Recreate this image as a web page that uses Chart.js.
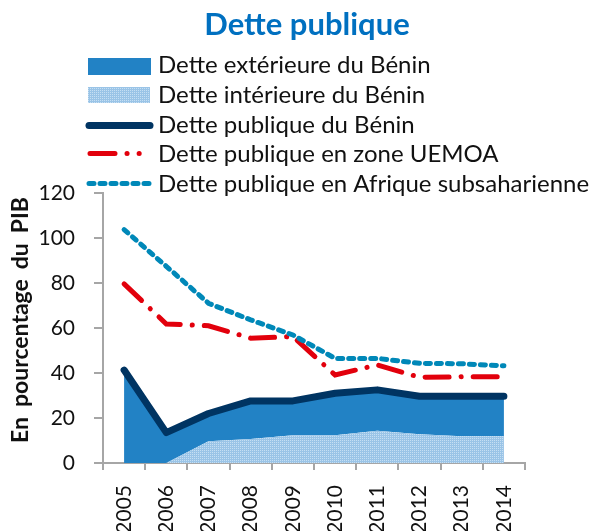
<!DOCTYPE html>
<html>
<head>
<meta charset="utf-8">
<script src="https://cdn.jsdelivr.net/npm/chart.js@4.4.1/dist/chart.umd.min.js"></script>
<style>
html,body{margin:0;padding:0;background:#fff;}
#wrap{position:relative;width:593px;height:531px;}
</style>
</head>
<body>
<div id="wrap"><canvas id="c" width="593" height="531"></canvas></div>
<script>
const years = ['2005','2006','2007','2008','2009','2010','2011','2012','2013','2014'];
const detteInterieure = [0, 0, 9.7, 10.7, 12.3, 12.3, 14.3, 12.8, 11.9, 11.9];
const detteExterieure = [41.3, 13.5, 12.3, 16.9, 15.3, 18.7, 18.2, 16.9, 17.8, 17.8];
const dettePubliqueBenin = [41.3, 13.5, 22.0, 27.6, 27.6, 31.0, 32.5, 29.7, 29.7, 29.7];
const dettePubliqueUEMOA = [79.6, 61.8, 61.0, 55.5, 56.2, 39.1, 43.6, 38.1, 38.3, 38.3];
const dettePubliqueASS = [103.7, 87.4, 71.0, 63.6, 56.9, 46.5, 46.5, 44.3, 44.1, 43.2];
const yTicks = [0, 20, 40, 60, 80, 100, 120];
const legendLabels = ['Dette extérieure du Bénin','Dette intérieure du Bénin','Dette publique du Bénin','Dette publique en zone UEMOA','Dette publique en Afrique subsaharienne'];
const titleText = 'Dette publique';
const yTitleText = 'En pourcentage du PIB';

const FONT = 'Lato';
const C_EXT = '#2282C5';
const C_LINE = '#003462';
const C_RED = '#E2000C';
const C_TEAL = '#0088B8';
const AXIS = '#A6A6A6';

function makePattern(){
  const p = document.createElement('canvas'); p.width = 2; p.height = 2;
  const g = p.getContext('2d');
  g.fillStyle = '#9AC4E7'; g.fillRect(0,0,2,2);
  g.fillStyle = '#C6DFF3'; g.fillRect(0,0,1,1);
  return document.getElementById('c').getContext('2d').createPattern(p,'repeat');
}
const pattern = makePattern();

const overlay = {
  id:'overlay',
  afterDraw(chart){
    const ctx = chart.ctx;
    ctx.save();
    // title
    ctx.fillStyle = '#0070C0';
    ctx.font = 'bold 31px ' + FONT;
    ctx.textAlign = 'center'; ctx.textBaseline = 'alphabetic';
    ctx.fillText(titleText, 307, 35);
    // legend
    const rows = [73, 103, 133, 162, 192];
    const cy = [66, 95, 125.5, 153.5, 183.5];
    ctx.font = '24px ' + FONT;
    ctx.textAlign = 'left';
    ctx.fillStyle = '#111';
    legendLabels.forEach((t,i)=>{ ctx.fillText(t, 158, rows[i]); });
    // swatches
    ctx.fillStyle = C_EXT; ctx.fillRect(88, 58, 63, 17);
    ctx.fillStyle = pattern; ctx.fillRect(88, 87, 62, 16);
    ctx.lineCap = 'round';
    ctx.strokeStyle = C_LINE; ctx.lineWidth = 7; ctx.setLineDash([]);
    ctx.beginPath(); ctx.moveTo(89, cy[2]); ctx.lineTo(150, cy[2]); ctx.stroke();
    ctx.strokeStyle = C_RED; ctx.lineWidth = 5; ctx.setLineDash([25, 12, 0.1, 12, 0.1, 12]);
    ctx.beginPath(); ctx.moveTo(90, cy[3]); ctx.lineTo(150, cy[3]); ctx.stroke();
    ctx.strokeStyle = C_TEAL; ctx.lineWidth = 5; ctx.setLineDash([5, 6]);
    ctx.beginPath(); ctx.moveTo(89, cy[4]); ctx.lineTo(151, cy[4]); ctx.stroke();
    ctx.setLineDash([]);
    // y title
    ctx.translate(28, 320); ctx.rotate(-Math.PI/2);
    ctx.font = 'bold 23px ' + FONT; ctx.fillStyle = '#111'; ctx.textAlign='left';
    const w0 = ctx.measureText(yTitleText).width;
    const extra = Math.max(0, (246 - w0) / 3);
    ctx.wordSpacing = extra.toFixed(2) + 'px';
    ctx.fillText(yTitleText, -123, 0);
    ctx.restore();
  }
};

new Chart(document.getElementById('c'), {
  type:'line',
  data:{
    labels: years,
    datasets:[
      {label:legendLabels[2], data: dettePubliqueBenin, stack:'s1', borderColor:C_LINE, borderWidth:7, borderCapStyle:'round', borderJoinStyle:'round', pointRadius:0, fill:false, order:2},
      {label:legendLabels[3], data: dettePubliqueUEMOA, stack:'s2', borderColor:C_RED, borderWidth:5, borderCapStyle:'round', borderDash:[24,12,0.1,12], pointRadius:0, fill:false, order:1},
      {label:legendLabels[4], data: dettePubliqueASS, stack:'s3', borderColor:C_TEAL, borderWidth:5, borderCapStyle:'round', borderDash:[5,6], pointRadius:0, fill:false, order:0},
      {label:legendLabels[1], data: detteInterieure, stack:'area', borderWidth:0, borderColor:'rgba(0,0,0,0)', backgroundColor: pattern, pointRadius:0, fill:'origin', order:3},
      {label:legendLabels[0], data: detteExterieure, stack:'area', borderWidth:0, borderColor:'rgba(0,0,0,0)', backgroundColor: C_EXT, pointRadius:0, fill:'-1', order:4}
    ]
  },
  options:{
    responsive:false, animation:false,
    layout:{padding:{top:193, right:68, left:0, bottom:0}},
    plugins:{legend:{display:false}, tooltip:{enabled:false}, title:{display:false}},
    elements:{line:{tension:0}},
    scales:{
      x:{
        type:'category', offset:true,
        grid:{display:true, drawOnChartArea:false, drawTicks:true, tickLength:7, color:AXIS, lineWidth:2, offset:true},
        border:{display:true, color:AXIS, width:2},
        ticks:{color:'#111', font:{family:FONT, size:21}, minRotation:90, maxRotation:90, padding:15, autoSkip:false},
        afterFit(s){ s.height = 531 - 463; }
      },
      y:{
        stacked:true, min:0, max:120,
        afterBuildTicks(s){ s.ticks = yTicks.map(v=>({value:v})); },
        grid:{display:true, drawOnChartArea:false, drawTicks:true, tickLength:9, color:AXIS, lineWidth:2},
        border:{display:true, color:AXIS, width:2},
        ticks:{color:'#111', font:{family:FONT, size:21}, padding:19},
        afterFit(s){ s.width = 103; }
      }
    }
  },
  plugins:[overlay]
});
</script>
</body>
</html>
